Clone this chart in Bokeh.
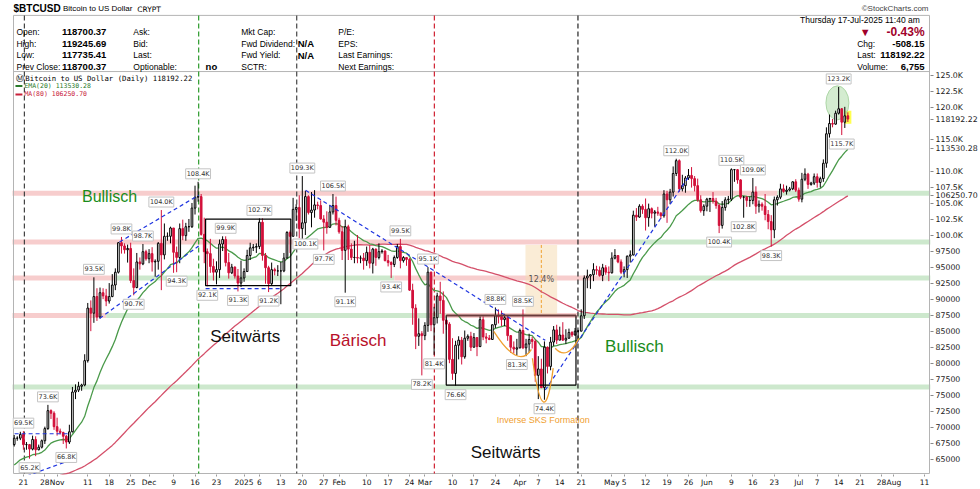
import numpy as np
import pandas as pd
from bokeh.plotting import figure
from bokeh.models import Range1d, FixedTicker, Label
from bokeh.embed import file_html
from bokeh.resources import INLINE

# ---------------- data (prices in thousands of USD) ----------------
START = "2024-10-18"
OPEN_FIRST = 67.4
close_k = [
    68.4, 68.4, 69.0, 67.4, 67.4, 66.7, 68.2, 66.6, 67.0, 68.0, 69.9, 72.7, 72.3, 70.2,
    69.5, 69.3, 68.7, 67.8, 69.4, 75.6, 75.9, 76.5, 76.7, 80.5, 88.7, 87.9, 90.5, 87.3, 91.1, 90.6, 89.8, 90.5, 92.3, 94.3, 98.9, 98.4, 97.8, 98.0, 93.0, 91.9, 95.9, 95.6, 97.5, 96.4,
    97.2, 95.9, 96.0, 98.8, 97.0, 99.9, 99.9, 101.2, 97.4, 96.6, 101.1, 100.0, 101.4, 101.4, 104.3, 106.0, 106.1, 100.2, 97.5, 97.2, 95.2, 94.3, 94.7, 98.7, 99.4, 95.8, 94.2, 95.1, 93.7, 92.6, 93.4,
    94.4, 96.9, 98.1, 98.2, 98.3, 102.1, 96.9, 95.0, 92.5, 94.7, 94.5, 94.5, 94.5, 96.5, 100.5, 99.9, 104.1, 104.4, 101.1, 102.0, 106.1, 103.6, 104.0, 104.8, 104.7, 102.6, 102.1, 101.3, 103.7, 104.7, 102.4,
    100.6, 97.7, 101.4, 97.9, 96.6, 96.6, 96.5, 96.5, 96.1, 97.4, 95.7, 97.9, 96.6, 97.5, 97.6, 96.1, 95.8, 95.5, 96.6, 98.3, 96.1, 96.6, 96.3, 91.5, 88.7, 84.3, 84.7, 84.4,
    86.0, 94.3, 86.1, 87.2, 90.6, 89.9, 86.8, 86.2, 80.7, 78.5, 82.9, 83.7, 81.1, 84.0, 84.3, 82.6, 84.1, 82.7, 86.9, 84.2, 84.0, 83.8, 86.1, 87.5, 87.4, 86.9, 87.2, 84.4, 82.6, 82.3, 82.5,
    85.2, 82.5, 83.1, 83.8, 83.5, 78.2, 79.2, 76.3, 82.6, 79.6, 83.4, 85.3, 83.7, 84.5, 83.7, 84.0, 84.9, 84.5, 85.1, 85.1, 87.5, 93.4, 93.7, 93.9, 94.7, 94.6, 93.8, 95.0, 94.3, 94.2,
    96.5, 96.9, 95.9, 94.3, 94.7, 96.8, 97.0, 103.2, 102.9, 104.6, 104.1, 102.8, 104.2, 103.5, 103.7, 103.5, 103.1, 106.5, 105.6, 106.8, 109.7, 111.7, 107.3, 107.8, 109.0, 109.4, 108.9, 107.8, 105.6, 103.9, 104.6,
    105.7, 105.8, 105.4, 104.7, 101.6, 104.4, 105.6, 105.7, 110.3, 110.3, 108.7, 106.0, 106.0, 105.5, 105.5, 106.8, 104.6, 104.9, 104.6, 103.3, 102.2, 100.9, 105.6, 106.0, 107.3, 106.9, 107.1, 107.3, 108.4, 107.1,
    105.7, 108.8, 109.6, 108.0, 108.2, 109.2, 108.3, 108.9, 111.3, 115.9, 117.5, 117.4, 119.1, 119.8, 117.7, 118.70037, 118.19222,
]
high_k = [
    68.9, 68.7, 69.4, 69.5, 67.8, 67.5, 68.8, 68.7, 67.4, 68.2, 70.2, 73.6, 72.9, 72.6,
    71.6, 69.9, 69.4, 68.9, 70.5, 76.4, 76.8, 77.2, 76.9, 81.5, 89.5, 89.9, 93.5, 91.8, 91.9, 91.8, 91.7, 92.6, 94.0, 94.9, 99.0, 99.8, 98.8, 98.6, 98.9, 94.9, 97.3, 96.6, 98.7, 97.8,
    97.9, 98.2, 96.3, 99.0, 104.0, 101.9, 100.5, 101.4, 101.2, 98.3, 101.9, 102.5, 102.0, 102.6, 105.1, 107.8, 108.4, 106.5, 102.8, 98.0, 99.5, 96.4, 96.0, 99.4, 99.9, 99.9, 97.3, 95.6, 95.2, 94.8, 96.1,
    94.9, 97.8, 98.9, 98.7, 98.8, 102.7, 102.7, 97.3, 95.3, 95.8, 95.0, 95.4, 95.9, 97.3, 100.7, 100.8, 105.9, 104.9, 106.3, 109.3, 107.0, 106.3, 106.8, 107.1, 105.3, 105.5, 103.2, 103.8, 104.8, 106.5, 106.1,
    102.8, 101.5, 102.5, 101.7, 98.8, 99.2, 100.1, 96.9, 97.3, 98.3, 98.5, 98.1, 98.0, 98.8, 97.9, 97.7, 97.0, 96.0, 96.9, 98.7, 99.5, 96.8, 96.6, 96.5, 92.5, 89.3, 87.1, 85.1,
    86.5, 95.1, 94.4, 88.9, 91.1, 92.8, 91.3, 86.9, 86.5, 84.0, 83.6, 84.3, 84.2, 85.2, 84.6, 85.0, 84.8, 84.0, 87.4, 87.4, 84.8, 84.5, 86.1, 88.8, 88.5, 88.3, 87.8, 87.5, 84.5, 83.5, 83.9,
    85.5, 88.5, 83.9, 84.7, 84.2, 83.8, 81.2, 80.8, 83.5, 82.7, 84.2, 85.9, 86.1, 85.8, 86.5, 85.4, 85.5, 85.1, 85.6, 85.3, 88.5, 93.8, 94.7, 94.0, 95.7, 95.3, 95.2, 95.6, 95.4, 95.2,
    97.4, 97.9, 96.9, 96.3, 95.2, 96.9, 97.7, 103.9, 104.3, 104.9, 104.9, 105.8, 105.0, 104.4, 104.0, 104.5, 103.7, 107.1, 107.0, 107.3, 110.8, 112.0, 111.9, 109.5, 109.3, 110.4, 110.7, 109.3, 108.9, 106.3, 104.9,
    105.9, 105.9, 106.8, 105.9, 105.0, 105.4, 106.0, 106.2, 110.5, 110.4, 110.4, 108.8, 106.2, 106.2, 106.1, 109.0, 107.7, 105.5, 105.2, 106.5, 104.0, 103.2, 106.1, 106.3, 108.1, 108.0, 107.8, 107.6, 108.5, 108.8,
    107.5, 109.8, 110.5, 109.8, 108.4, 109.7, 109.7, 109.2, 111.9, 116.9, 118.9, 118.2, 119.5, 123.2, 119.9, 120.1, 119.24569,
]
low_k = [
    67.1, 68.0, 68.1, 66.6, 66.6, 65.2, 66.5, 65.6, 66.5, 66.8, 67.5, 69.7, 71.4, 69.7,
    68.8, 69.0, 67.5, 66.8, 67.5, 69.3, 74.5, 75.6, 75.8, 76.5, 80.2, 85.1, 86.4, 86.7, 87.1, 90.1, 89.0, 89.4, 90.4, 91.5, 94.1, 97.2, 97.2, 95.8, 92.6, 90.7, 91.8, 94.7, 95.4, 96.1,
    95.7, 94.4, 93.6, 94.7, 91.5, 96.3, 99.2, 98.8, 94.2, 94.3, 95.7, 99.3, 99.2, 100.6, 101.2, 103.3, 105.3, 100.0, 95.7, 92.1, 94.2, 93.0, 92.4, 93.4, 97.6, 95.2, 93.3, 94.0, 93.3, 91.3, 92.0,
    92.8, 94.4, 96.2, 97.6, 97.3, 97.9, 96.1, 92.5, 91.2, 92.2, 93.8, 93.7, 89.3, 94.3, 96.5, 97.3, 99.9, 102.3, 99.6, 99.5, 100.1, 103.3, 101.3, 102.8, 104.1, 102.5, 97.7, 100.3, 101.3, 103.3, 101.6,
    100.3, 96.2, 91.1, 96.2, 96.2, 95.7, 95.7, 95.7, 94.7, 95.3, 94.9, 94.1, 95.3, 96.3, 97.2, 96.0, 95.2, 93.4, 95.1, 96.4, 94.9, 95.8, 95.3, 91.4, 86.1, 82.3, 82.8, 78.2,
    83.7, 85.0, 85.1, 81.4, 86.3, 87.8, 84.7, 85.3, 80.1, 77.5, 76.6, 80.7, 79.9, 80.8, 83.6, 82.0, 82.5, 81.2, 82.6, 83.7, 83.2, 83.7, 83.8, 85.6, 86.3, 85.9, 85.9, 83.6, 81.7, 81.6, 81.3,
    82.4, 82.3, 81.2, 81.7, 82.4, 77.2, 74.5, 76.2, 74.4, 78.5, 79.0, 82.8, 83.1, 83.7, 83.6, 83.1, 83.9, 84.2, 84.4, 83.9, 85.1, 87.0, 91.8, 91.7, 92.9, 93.9, 93.6, 92.9, 93.9, 92.9,
    94.1, 96.3, 95.7, 94.0, 93.5, 93.4, 95.8, 96.9, 102.3, 102.8, 103.4, 100.8, 101.4, 102.7, 101.4, 103.1, 102.6, 102.8, 102.0, 104.9, 106.1, 109.3, 106.8, 106.9, 106.7, 108.7, 107.5, 106.9, 105.3, 103.6, 103.1,
    103.8, 103.7, 105.0, 104.2, 100.4, 101.1, 103.9, 104.9, 105.4, 108.4, 108.1, 105.7, 102.8, 104.5, 104.5, 104.9, 103.4, 103.6, 103.9, 102.4, 101.0, 98.3, 99.6, 104.7, 105.7, 106.7, 106.4, 106.9, 107.1, 106.8,
    105.3, 105.2, 108.5, 107.3, 107.8, 107.9, 107.5, 107.5, 108.4, 110.6, 115.3, 116.9, 117.3, 118.9, 115.7, 116.8, 117.73541,
]
# closes of the 80 days before the first candle (for the moving averages)
hist_close_k = [
    66.2, 64.6,
    65.4, 61.5, 60.7, 58.1, 54.0, 56.0, 55.1, 61.7, 60.9, 61.0, 58.7, 59.3, 60.6, 58.7, 57.6, 58.9,
    59.5, 58.4, 59.5, 59.0, 61.2, 60.4, 64.1, 64.2, 64.2, 62.9, 59.5, 59.0, 59.4, 59.1, 58.9,
    57.3, 59.1, 57.5, 58.0, 56.2, 53.9, 54.2, 54.8, 57.0, 57.6, 57.3, 58.1, 60.5, 60.0, 59.2,
    58.2, 60.3, 61.8, 62.9, 63.2, 63.6, 63.3, 63.6, 64.1, 63.1, 65.2, 65.8, 65.9, 65.6, 63.3,
    60.8, 60.6, 60.8, 62.1, 62.1, 62.8, 62.2, 62.1, 60.6, 60.3, 62.4, 63.2, 62.9, 66.0, 67.0, 67.6, 67.4,
]
# latest values as printed by the chart
last_close_txt, ema_last_txt, ma_last_txt = "118192.22", "113530.28", "106250.70"

# price labels on highs ('h') and lows ('l')
ann_dates = ["2024-10-21", "2024-10-23", "2024-10-29", "2024-11-04", "2024-11-13", "2024-11-22",
             "2024-11-26", "2024-11-29", "2024-12-05", "2024-12-10", "2024-12-17", "2024-12-20",
             "2024-12-26", "2024-12-30", "2025-01-06", "2025-01-09", "2025-01-20", "2025-01-21",
             "2025-01-27", "2025-01-30", "2025-02-03", "2025-02-18", "2025-02-21", "2025-02-28",
             "2025-03-02", "2025-03-04", "2025-03-11", "2025-03-24", "2025-03-31", "2025-04-02",
             "2025-04-09", "2025-05-22", "2025-06-05", "2025-06-09", "2025-06-13", "2025-06-16",
             "2025-06-22", "2025-07-14", "2025-07-15"]
ann_values = [69.5, 65.2, 73.6, 66.8, 93.5, 99.8, 90.7, 98.7, 104.0, 94.3, 108.4, 92.1, 99.9,
              91.3, 102.7, 91.2, 109.3, 100.1, 97.7, 106.5, 91.1, 93.4, 99.5, 78.2, 95.1, 81.4,
              76.6, 88.8, 81.3, 88.5, 74.4, 112.0, 100.4, 110.5, 102.8, 109.0, 98.3, 123.2, 115.7]
ann_side = ["h", "l", "h", "l", "h", "h", "l", "h", "h", "l", "h", "l", "h", "l", "h", "l", "h",
            "l", "l", "h", "l", "l", "h", "l", "h", "l", "l", "h", "l", "h", "l", "h", "l", "h",
            "l", "h", "l", "h", "l"]

# x-axis labels
xtick_dates = ["2024-10-21", "2024-10-28", "2024-11-11", "2024-11-18", "2024-11-25", "2024-12-09",
               "2024-12-16", "2024-12-23", "2025-01-06", "2025-01-13", "2025-01-20", "2025-01-27",
               "2025-02-10", "2025-02-17", "2025-02-24", "2025-03-10", "2025-03-17", "2025-03-24",
               "2025-04-07", "2025-04-14", "2025-04-21", "2025-05-05", "2025-05-12", "2025-05-19",
               "2025-05-26", "2025-06-09", "2025-06-16", "2025-06-23", "2025-07-07", "2025-07-14",
               "2025-07-21", "2025-07-28", "2025-08-11"]
month_dates = ["2024-11-01", "2024-12-01", "2025-01-01", "2025-02-01", "2025-03-01", "2025-04-01",
               "2025-05-01", "2025-06-01", "2025-07-01", "2025-08-01"]
month_labels = ["Nov", "Dec", "2025", "Feb", "Mar", "Apr", "May", "Jun", "Jul", "Aug"]

# y-axis labels (117.5K and 112.5K are hidden under the price tags)
y_ticks = [65000, 67500, 70000, 72500, 75000, 77500, 80000, 82500, 85000, 87500, 90000, 92500,
           95000, 97500, 100000, 102500, 105000, 107500, 110000, 115000, 120000, 122500, 125000]

# support / resistance bands: (price level, from date, to date, kind)
bands = [
    (106600, "2024-10-17", "2025-06-24", "r"), (106600, "2025-06-24", "2025-08-13", "s"),
    (99000, "2024-10-17", "2025-05-07", "r"), (99000, "2025-05-07", "2025-08-13", "s"),
    (93400, "2024-10-17", "2024-11-20", "r"), (93400, "2024-11-20", "2025-02-19", "s"),
    (93400, "2025-02-19", "2025-04-29", "r"), (93400, "2025-04-29", "2025-08-13", "s"),
    (87550, "2024-10-17", "2024-11-17", "r"), (87550, "2024-11-17", "2025-03-08", "s"),
    (87550, "2025-03-08", "2025-04-20", "r"), (87550, "2025-04-20", "2025-08-13", "s"),
    (76400, "2024-10-17", "2025-08-13", "s"),
]

# ---------------- derived series ----------------
REF = pd.Timestamp("2024-10-21")
dates = pd.date_range(START, periods=len(close_k), freq="D")
day = np.array((dates - REF).days, dtype=float)
c = np.array(close_k) * 1000
o = np.array([OPEN_FIRST] + close_k[:-1]) * 1000
h = np.maximum(np.array(high_k) * 1000, np.maximum(o, c))
l = np.minimum(np.array(low_k) * 1000, np.minimum(o, c))
full = pd.Series(hist_close_k + close_k) * 1000
ema20 = full.ewm(span=20, adjust=False).mean().values[-len(c):]
ma80 = full.rolling(80).mean().values[-len(c):]


def dday(s):
    return float((pd.Timestamp(s) - REF).days)


# ---------------- pixel geometry ----------------
W, H = 980, 489
FR_L, FR_R, FR_T, FR_B = 12, 939, 0, 477          # plotting frame
BX_L, BX_R, BX_T, BX_B = 13, 938, 15, 476          # drawn chart box
PX_DAY0, PX_PER_DAY = 23.0, 3.095
PX_P125, PX_PER_USD = 75.4, 0.00645


def dx(px):
    return (px - PX_DAY0) / PX_PER_DAY


def dy(py):
    return 125000 - (py - PX_P125) / PX_PER_USD


X0, X1 = dx(FR_L), dx(FR_R)
Y0, Y1 = dy(FR_B), dy(FR_T)

p = figure(width=W, height=H, x_range=Range1d(X0, X1), y_range=Range1d(Y0, Y1),
           output_backend="svg", toolbar_location=None, y_axis_location="right",
           min_border_left=FR_L, min_border_right=W - FR_R, min_border_top=FR_T,
           min_border_bottom=H - FR_B)
p.background_fill_color = "white"
p.border_fill_color = "white"
p.outline_line_color = None
p.grid.visible = False

FONT = "DejaVu Sans"
SANS = "Liberation Sans"

# right price axis, including the three price tags
tag_vals = [float(last_close_txt), float(ema_last_txt), float(ma_last_txt)]
ticks = y_ticks + tag_vals
p.yaxis.ticker = FixedTicker(ticks=ticks)
ovr = {t: (f"{t/1000:.1f}K" if t >= 100000 else str(t)) for t in y_ticks}
ovr.update({v: s for v, s in zip(tag_vals, [last_close_txt, ema_last_txt, ma_last_txt])})
p.yaxis.major_label_overrides = ovr
p.yaxis.major_label_text_font = FONT
p.yaxis.major_label_text_font_size = "7.8px"
p.yaxis.major_label_text_color = "#222"
p.yaxis.major_tick_out = 3
p.yaxis.major_tick_in = 0
p.yaxis.minor_tick_line_color = None
p.yaxis.major_label_standoff = 2
p.yaxis.axis_line_color = None
p.yaxis.major_tick_line_color = "#888"

# bottom date axis
xt = [dday(s) for s in xtick_dates] + [dday(s) for s in month_dates]
p.xaxis.ticker = FixedTicker(ticks=xt)
ov = {dday(s): str(pd.Timestamp(s).day) for s in xtick_dates}
ov.update({dday(s): t for s, t in zip(month_dates, month_labels)})
p.xaxis.major_label_overrides = ov
p.xaxis.major_label_text_font = FONT
p.xaxis.major_label_text_font_size = "7.5px"
p.xaxis.major_label_text_color = "#111"
p.xaxis.major_tick_out = 2
p.xaxis.major_tick_in = 0
p.xaxis.minor_tick_line_color = None
p.xaxis.major_label_standoff = 1
p.xaxis.axis_line_color = None
p.xaxis.major_tick_line_color = "#999"

# bands
PINK, GREEN = "#f6c8c8", "#c8e6c8"
for lvl, a, b, k in bands:
    p.segment(x0=[dday(a)], y0=[lvl], x1=[dday(b)], y1=[lvl], line_width=5,
              line_color=PINK if k == "r" else GREEN, line_alpha=0.9)

# chart box and header separator
BOXC = "#b4b4b4"
for (ax, ay, bx, by) in [(BX_L, BX_T, BX_R, BX_T), (BX_L, BX_B, BX_R, BX_B), (BX_L, BX_T, BX_L, BX_B),
                         (BX_R, BX_T, BX_R, BX_B), (BX_L, 71.5, BX_R, 71.5)]:
    p.segment(x0=[dx(ax)], y0=[dy(ay)], x1=[dx(bx)], y1=[dy(by)], line_color=BOXC, line_width=1)

# vertical dashed markers
for px, col in [(24, "#444444"), (200, "#2a9a2a"), (299, "#444444"), (438, "#d02030"), (583, "#222222")]:
    p.segment(x0=[dx(px)], y0=[dy(BX_T)], x1=[dx(px)], y1=[dy(BX_B)], line_color=col,
              line_width=1.2, line_dash="5 3")

# 12.4% measurement box
p.quad(left=[dx(530)], right=[dx(562)], top=[dy(246)], bottom=[dy(317)], fill_color="#f5dcb4",
       fill_alpha=0.55, line_color=None)
p.segment(x0=[dx(546)], y0=[dy(246)], x1=[dx(546)], y1=[dy(317)], line_color="#f0a030",
          line_dash="3 2", line_width=1)

# moving averages
p.line(day, ma80, line_color="#d4506a", line_width=1.3)
p.line(day, ema20, line_color="#4a9a4a", line_width=1.3)

# last-candle highlight & top ellipse
p.rect(x=[day[-1]], y=[(h[-1] + l[-1]) / 2], width=7, height=13, width_units="screen",
       height_units="screen", fill_color="#ffff30", fill_alpha=0.85, line_color=None)
p.ellipse(x=[dx(845)], y=[dy(103)], width=23, height=34, width_units="screen",
          height_units="screen", fill_color="#b8e0b0", fill_alpha=0.6, line_color="#a0d098",
          line_alpha=0.8)

# candles
RED = "#d2103a"
up = c >= o
col = np.where(up, "#000000", RED)
p.segment(x0=day, y0=l, x1=day, y1=h, line_color=list(col), line_width=1)
p.vbar(x=day[up], width=0.55, top=c[up], bottom=o[up], fill_color="white", line_color="black",
       line_width=1)
p.vbar(x=day[~up], width=0.55, top=o[~up], bottom=c[~up], fill_color=RED, line_color=RED,
       line_width=1)

# trend lines (blue dashed)
BLUE = "#1f35e0"
for (ax, ay, bx, by) in [(0, 488, 75, 461), (0, 436, 68, 436), (120, 243, 200, 196),
                         (100, 320, 200, 247), (207, 290, 283, 290), (308, 191, 550, 342),
                         (550, 392, 695, 177)]:
    p.segment(x0=[dx(ax)], y0=[dy(ay)], x1=[dx(bx)], y1=[dy(by)], line_color=BLUE,
              line_dash="4 3", line_width=1.2)

# range boxes
p.quad(left=[dx(207)], right=[dx(293)], top=[dy(220)], bottom=[dy(287)], fill_color=None,
       line_color="black", line_width=1.2)
p.quad(left=[dx(450)], right=[dx(581)], top=[dy(317)], bottom=[dy(387)], fill_color=None,
       line_color="black", line_width=1.2)
p.segment(x0=[dx(450)], y0=[dy(317)], x1=[dx(581)], y1=[dy(317)], line_color="#6a3a3a",
          line_width=2)

# inverse head & shoulders arcs
ORANGE = "#f0a030"
for (a, b, cc) in [((498, 333), (520, 357), (536, 351)), ((537, 360), (548, 404), (558, 370)),
                   ((560, 350), (572, 354), (584, 340))]:
    cx = 2 * b[0] - (a[0] + cc[0]) / 2
    cy = 2 * b[1] - (a[1] + cc[1]) / 2
    p.quadratic(x0=[dx(a[0])], y0=[dy(a[1])], x1=[dx(cc[0])], y1=[dy(cc[1])], cx=[dx(cx)],
                cy=[dy(cy)], line_color=ORANGE, line_width=1.3)


def lab(px, py, text, size=9.0, color="#000", bold=False, align="left", font=SANS, **kw):
    p.add_layout(Label(x=dx(px), y=dy(py), text=text, text_font=font,
                       text_font_size=f"{size}px", text_color=color,
                       text_font_style="bold" if bold else "normal", text_align=align,
                       text_baseline="middle", **kw))


# high/low value labels
for d, v, s in zip(ann_dates, ann_values, ann_side):
    p.add_layout(Label(x=dday(d), y=v * 1000, y_offset=8 if s == "h" else -9, text=f"{v:.1f}K",
                       text_font=FONT, text_font_size="6.5px", text_color="#333",
                       text_align="center", text_baseline="middle",
                       background_fill_color="white", border_line_color="#c4c4c4", padding=1))

# chart texts
lab(110, 197, "Bullisch", 16, "#1a8c1a", align="center")
lab(247, 338, "Seitwärts", 17, "#111", align="center")
lab(361, 342, "Bärisch", 17, "#b8102a", align="center")
lab(510, 455, "Seitwärts", 17, "#111", align="center")
lab(640, 348, "Bullisch", 17, "#1a8c1a", align="center")
lab(546, 281, "12.4%", 8, "#555", align="center", font=FONT)
lab(548, 422, "Inverse SKS Formation", 9, ORANGE, align="center")

# title and header panel
lab(13, 8, "$BTCUSD", 10, "#000", bold=True)
lab(63, 8.5, "Bitcoin to US Dollar", 8, "#000")
lab(138, 9, "CRYPT", 7.5, "#000", font=FONT)
lab(937, 8, "\u00a9StockCharts.com", 8, "#444", align="right")

rows = [32, 43.5, 55, 66.5]
for y, t in zip(rows, ["Open:", "High:", "Low:", "Prev Close:"]):
    lab(16, y, t, 8.5)
for y, t in zip(rows, ["118700.37", "119245.69", "117735.41", "118700.37"]):
    lab(62, y, t, 9.5, bold=True)
for y, t in zip(rows, ["Ask:", "Bid:", "Last:", "Optionable:"]):
    lab(134, y, t, 8.5)
lab(207, rows[3], "no", 9.5, bold=True)
for y, t in zip(rows, ["Mkt Cap:", "Fwd Dividend:", "Fwd Yield:", "SCTR:"]):
    lab(243, y, t, 8.5)
lab(300, rows[1], "N/A", 9.5, bold=True)
lab(300, rows[2], "N/A", 9.5, bold=True)
for y, t in zip(rows, ["P/E:", "EPS:", "Last Earnings:", "Next Earnings:"]):
    lab(341, y, t, 8.5)

lab(933, 20, "Thursday  17-Jul-2025  11:40 am", 8.5, align="right")
lab(873, 32, "\u25bc", 11, "#a0002a", align="center")
lab(933, 32, "-0.43%", 12, "#a0002a", bold=True, align="right")
lab(865, 43.5, "Chg:", 8.5)
lab(933, 43.5, "-508.15", 9.5, bold=True, align="right")
lab(865, 55, "Last:", 8.5)
lab(933, 55, last_close_txt, 9.5, bold=True, align="right")
lab(865, 66.5, "Volume:", 8.5)
lab(933, 66.5, "6,755", 9.5, bold=True, align="right")

# in-chart legend
lab(16, 78, "\u24c2", 8, "#000", font=FONT)
lab(25, 78, f"Bitcoin to US Dollar (Daily) {last_close_txt}", 7.3, "#000", font="DejaVu Sans Mono")
p.segment(x0=[dx(15)], y0=[dy(86)], x1=[dx(22)], y1=[dy(86)], line_color="#2a7a2a", line_width=2)
lab(24, 86, f"EMA(20) {ema_last_txt}", 6.5, "#2a7a2a", font="DejaVu Sans Mono")
p.segment(x0=[dx(15)], y0=[dy(94.5)], x1=[dx(22)], y1=[dy(94.5)], line_color="#c8203a", line_width=2)
lab(24, 94.5, f"MA(80) {ma_last_txt}", 6.5, "#c8203a", font="DejaVu Sans Mono")

open("out.html", "w").write(file_html(p, INLINE))
